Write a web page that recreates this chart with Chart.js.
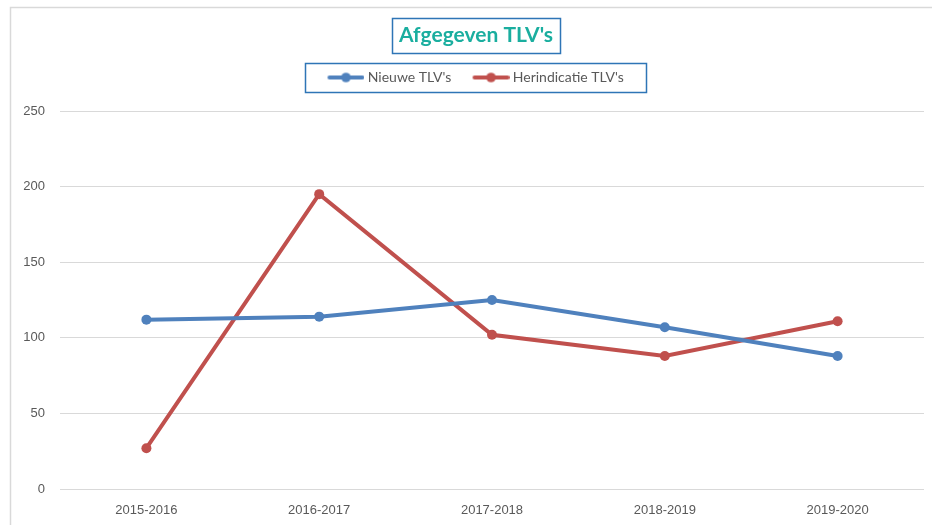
<!DOCTYPE html>
<html><head><meta charset="utf-8">
<script src="https://cdn.jsdelivr.net/npm/chart.js@4/dist/chart.umd.min.js"></script>
<style>html,body{margin:0;padding:0;background:#fff;overflow:hidden}#wrap{width:932px;height:525px;overflow:hidden}</style>
</head><body><div id="wrap"><canvas id="c" width="950" height="525"></canvas></div>
<script>
const categories = ['2015-2016','2016-2017','2017-2018','2018-2019','2019-2020'];
const nieuwe = [112, 114, 125, 107, 88];
const herindicatie = [27, 195, 102, 88, 111];
const seriesNames = ["Nieuwe TLV's", "Herindicatie TLV's"];
const titleText = "Afgegeven TLV's";

const BLUE = '#4F81BD', RED = '#C0504D';
function legendIcon(color){
  const c = document.createElement('canvas'); c.width = 40; c.height = 12;
  const x = c.getContext('2d');
  x.strokeStyle = color; x.lineWidth = 4; x.lineCap = 'round';
  x.beginPath(); x.moveTo(5, 6); x.lineTo(38, 6); x.stroke();
  x.fillStyle = color; x.beginPath(); x.arc(21.5, 6, 4.8, 0, Math.PI*2); x.fill();
  return c;
}
const icons = [legendIcon(BLUE), legendIcon(RED)];

const decor = {
  id: 'decor',
  beforeDraw(chart){
    const ctx = chart.ctx;
    ctx.save();
    ctx.strokeStyle = '#d9d9d9'; ctx.lineWidth = 1.5;
    ctx.beginPath(); ctx.moveTo(10.5, 600); ctx.lineTo(10.5, 7.5); ctx.lineTo(1000, 7.5); ctx.stroke();
    ctx.restore();
  },
  afterDraw(chart){
    const ctx = chart.ctx;
    ctx.save();
    ctx.strokeStyle = '#2E75B6'; ctx.lineWidth = 1.5;
    const t = chart.titleBlock;
    ctx.font = t.options.font.weight + ' ' + t.options.font.size + 'px ' + t.options.font.family;
    const w = ctx.measureText(titleText).width;
    const cx = (t.left + t.right)/2;
    ctx.strokeRect(Math.round(cx - w/2 - 7)+0.5, 18.5, Math.round(w + 14), 35);
    const hb = chart.legend.legendHitBoxes;
    const l = Math.min(...hb.map(h=>h.left)), r = Math.max(...hb.map(h=>h.left+h.width));
    ctx.strokeRect(Math.round(l - 23)+0.5, 63.5, Math.round(r - l + 45), 29);
    ctx.restore();
  }
};

new Chart(document.getElementById('c'), {
  type: 'line',
  data: {
    labels: categories,
    datasets: [
      {label: seriesNames[0], data: nieuwe, xAxisID: 'x', yAxisID: 'y', borderColor: BLUE, backgroundColor: BLUE, borderWidth: 4,
       pointRadius: 5, pointBorderWidth: 0, pointBackgroundColor: BLUE, tension: 0},
      {label: seriesNames[1], data: herindicatie, xAxisID: 'x', yAxisID: 'y', borderColor: RED, backgroundColor: RED, borderWidth: 4,
       pointRadius: 5, pointBorderWidth: 0, pointBackgroundColor: RED, tension: 0}
    ]
  },
  options: {
    responsive: false, animation: false,
    layout: {padding: {left: 10, right: 8, top: 0, bottom: 0}},
    plugins: {
      title: {display: true, text: titleText, color: '#1AAE9F',
        font: {family: 'Lato', size: 21, weight: 'bold'}, padding: {top: 23, bottom: 0.3}},
      legend: {display: true, position: 'top',
        labels: {usePointStyle: true, pointStyleWidth: 32.5, color: '#595959', padding: 22,
          font: {family: 'Lato', size: 14},
          generateLabels(chart){
            const items = Chart.defaults.plugins.legend.labels.generateLabels(chart);
            items.forEach((it,i)=>{ it.pointStyle = icons[i]; });
            return items;
          }}},
      tooltip: {enabled: false}
    },
    scales: {
      x: {offset: true, grid: {display: false, drawTicks: false}, border: {display: false},
        ticks: {color: '#595959', padding: 14, font: {family: 'Liberation Sans', size: 13}},
        afterFit(s){ s.height = 36; }},
      xTopSpacer: {type: 'category', position: 'top', display: true, grid: {display: false, drawTicks: false},
        border: {display: false}, ticks: {display: false}, afterFit(s){ s.height = 16.5; }},
      y: {min: 0, max: 250, grid: {color: '#d9d9d9', lineWidth: 1, drawTicks: false}, border: {display: false},
        ticks: {stepSize: 50, color: '#595959', padding: 15, font: {family: 'Liberation Sans', size: 13}},
        afterFit(s){ s.width = 50; }},
      yRightSpacer: {type: 'linear', position: 'right', display: true, grid: {display: false, drawTicks: false},
        border: {display: false}, ticks: {display: false}, afterFit(s){ s.width = 18; }}
    }
  },
  plugins: [decor]
});
</script></body></html>
